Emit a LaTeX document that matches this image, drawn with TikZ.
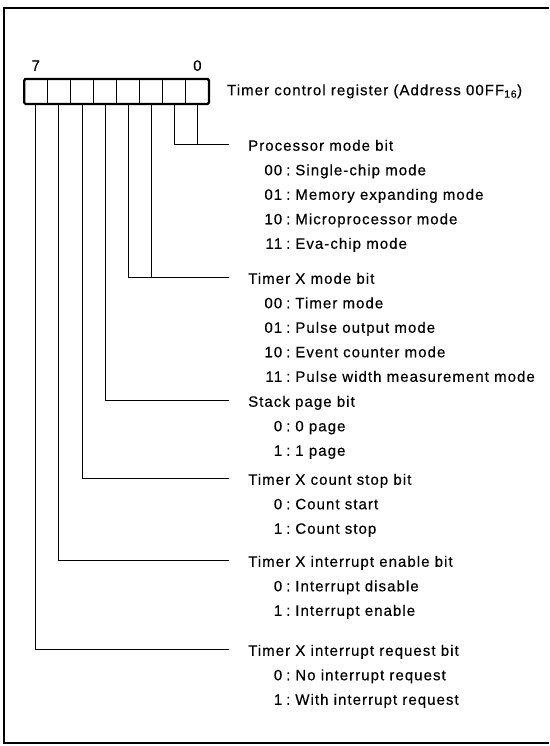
\documentclass[tikz,border=0pt]{standalone}
\usepackage{fontspec}
\setmainfont{Liberation Sans}[LetterSpace=7, FakeBold=0.4]
\usetikzlibrary{positioning, calc}

\newcommand{\bitval}[1]{\makebox[19pt][r]{#1}\hspace{4pt}:\hspace{5pt}}

\begin{document}
\begin{tikzpicture}[x=1pt, y=-1pt, node distance=19pt]

\tikzset{
  cell/.style={
    rectangle, draw, line width=1pt,
    minimum width=23.1pt, minimum height=25pt,
    inner sep=0pt, outer sep=0pt
  },
  regframe/.style={line width=2.2pt, rounded corners=1.5pt},
  wire/.style={line width=0.8pt},
  frame/.style={line width=1.6pt},
  txt/.style={inner sep=0pt, text height=10.5pt, text depth=3pt,
    font=\fontsize{15}{17}\selectfont},
  head/.style={txt, anchor=west, yshift=-3pt},
  entry/.style={txt, anchor=west}
}

\useasboundingbox (0,0) rectangle (549,746);

% ==========================
% Outer frame (open on the right)
% ==========================
\draw[frame] (549,8) -- (4,8) -- (4,743) -- (549,743);

% ==========================
% Register: bit 7 (left) ... bit 0 (right)
% ==========================
\foreach \i in {0,...,7}
  \node[cell] (b\i) at ({197.4-23.1*\i},91.5) {};
\draw[regframe] (b7.north west) rectangle (b0.south east);

\node[txt, above=5pt of b7] (n7) {7};
\node[txt, above=5pt of b0] (n0) {0};
\node[txt, right=18pt of b0] (title)
  {Timer control register (Address 00FF\textsubscript{16})};

% ==========================
% Bits 1-0: processor mode
% ==========================
\coordinate (pmend) at (229,144);
\draw[wire] (b1.south) |- (pmend);
\draw[wire] (b0.south) -- (b0.south |- pmend);
\node[head, right=of pmend] (pm) {Processor mode bit};
\foreach \v/\t [count=\k] in {00/Single-chip mode, 01/Memory expanding mode,
    10/Microprocessor mode, 11/Eva-chip mode}
  \node[entry] (pm\k) at ($(pm.west)+(15,24.5*\k)$) {\bitval{\v}\t};

% ==========================
% Bits 3-2: timer X mode
% ==========================
\coordinate (tmend) at (229,277);
\draw[wire] (b3.south) |- (tmend);
\draw[wire] (b2.south) -- (b2.south |- tmend);
\node[head, right=of tmend] (tm) {Timer X mode bit};
\foreach \v/\t [count=\k] in {00/Timer mode, 01/Pulse output mode,
    10/Event counter mode, 11/Pulse width measurement mode}
  \node[entry] (tm\k) at ($(tm.west)+(15,24.5*\k)$) {\bitval{\v}\t};

% ==========================
% Bit 4: stack page
% ==========================
\coordinate (spend) at (229,400);
\draw[wire] (b4.south) |- (spend);
\node[head, right=of spend] (sp) {Stack page bit};
\foreach \v/\t [count=\k] in {0/0 page, 1/1 page}
  \node[entry] (sp\k) at ($(sp.west)+(15,24.5*\k)$) {\bitval{\v}\t};

% ==========================
% Bit 5: timer X count stop
% ==========================
\coordinate (csend) at (229,478);
\draw[wire] (b5.south) |- (csend);
\node[head, right=of csend] (cs) {Timer X count stop bit};
\foreach \v/\t [count=\k] in {0/Count start, 1/Count stop}
  \node[entry] (cs\k) at ($(cs.west)+(15,24.5*\k)$) {\bitval{\v}\t};

% ==========================
% Bit 6: timer X interrupt enable
% ==========================
\coordinate (ieend) at (229,560);
\draw[wire] (b6.south) |- (ieend);
\node[head, right=of ieend] (ie) {Timer X interrupt enable bit};
\foreach \v/\t [count=\k] in {0/Interrupt disable, 1/Interrupt enable}
  \node[entry] (ie\k) at ($(ie.west)+(15,24.5*\k)$) {\bitval{\v}\t};

% ==========================
% Bit 7: timer X interrupt request
% ==========================
\coordinate (irend) at (229,649);
\draw[wire] (b7.south) |- (irend);
\node[head, right=of irend] (ir) {Timer X interrupt request bit};
\foreach \v/\t [count=\k] in {0/No interrupt request, 1/With interrupt request}
  \node[entry] (ir\k) at ($(ir.west)+(15,24.5*\k)$) {\bitval{\v}\t};

\end{tikzpicture}
\end{document}
